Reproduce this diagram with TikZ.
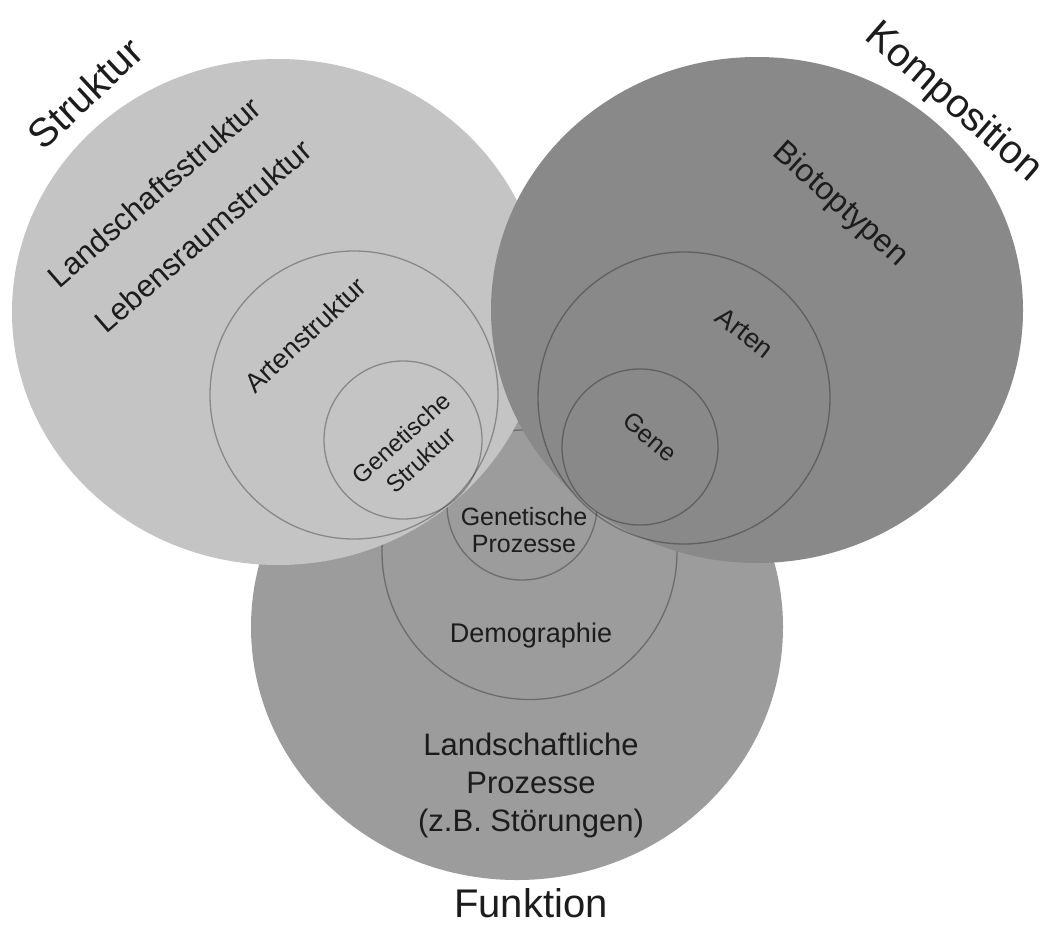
\documentclass[tikz,border=0pt]{standalone}
\usepackage{fontspec}
\setmainfont{Liberation Sans}
\usetikzlibrary{shapes.geometric}
\definecolor{sgray}{RGB}{196,196,196}
\definecolor{kgray}{RGB}{137,137,137}
\definecolor{fgray}{RGB}{156,156,156}
\definecolor{txt}{RGB}{28,28,28}
\newcommand\fsz[2]{\fontsize{#1}{#2}\selectfont}
\begin{document}
\begin{tikzpicture}[x=1pt,y=-1pt,
  big/.style={ellipse, inner sep=0pt, outer sep=0pt, minimum width=532pt, minimum height=506pt},
  ring/.style={circle, inner sep=0pt, outer sep=0pt, draw=black, draw opacity=0.3, line width=1.3pt},
  title/.style={inner sep=0pt, text=txt, font=\fsz{40}{46}},
  lab/.style={inner sep=0pt, text=txt, align=center},
]
\useasboundingbox[fill=white] (0,0) rectangle (1049,926);
% Funktion
\node[big, fill=fgray] (F) at (517,627) {};
\node[ring, minimum size=295pt] (demo) at (529.5,552) {};
\node[ring, minimum size=150pt] (genp) at (522,505) {};
% Struktur
\node[big, fill=sgray] (S) at (278,312) {};
\node[ring, minimum size=288pt] (arts) at (354,395) {};
\node[ring, minimum size=158pt] (gens) at (403,440) {};
% Komposition
\node[big, fill=kgray] (K) at (757,310) {};
\node[ring, minimum size=292pt] (arten) at (684,398) {};
\node[ring, minimum size=156pt] (gene) at (640,447) {};
% titles
\node[title, rotate=43] (tS) at (85,93) {Struktur};
\node[title, rotate=-41] (tK) at (953,103) {Komposition};
\node[title] (tF) at (531,903) {Funktion};
% Struktur labels
\node[lab, rotate=41, font=\fsz{31}{36}] (ls) at (154,192) {Landschaftsstruktur};
\node[lab, rotate=41, font=\fsz{31}{36}] (lr) at (203,236) {Lebensraumstruktur};
\node[lab, rotate=43, font=\fsz{27}{30}] (las) at (305,335) {Artenstruktur};
\node[lab, rotate=42, font=\fsz{24}{29}] (lgs) at (411,449) {Genetische\\Struktur};
% Komposition labels
\node[lab, rotate=-42, font=\fsz{32}{36}] (lb) at (840,205) {Biotoptypen};
\node[lab, rotate=-38, font=\fsz{27}{30}] (la) at (745,333) {Arten};
\node[lab, rotate=-40, font=\fsz{25}{28}] (lg) at (650,437) {Gene};
% Funktion labels
\node[lab, font=\fsz{25}{27}] (lgp) at (524,530) {Genetische\\Prozesse};
\node[lab, font=\fsz{27}{30}] (ld) at (531,636) {Demographie};
\node[lab, font=\fsz{31}{38}] (llp) at (531,785) {Landschaftliche\\Prozesse\\(z.B. Störungen)};
\end{tikzpicture}
\end{document}
